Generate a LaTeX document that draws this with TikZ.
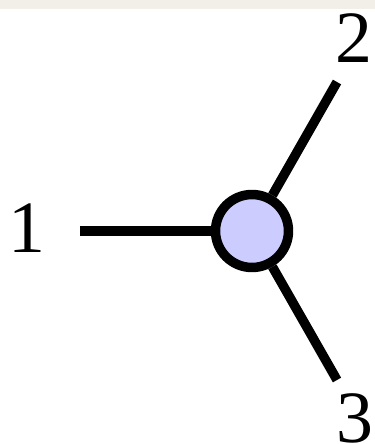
\documentclass[tikz,border=0pt]{standalone}
\usepackage{fontspec}
\setmainfont{Liberation Serif}
\usepackage{xcolor}
\usetikzlibrary{positioning}
\definecolor{vtxblue}{HTML}{CCCCFF}
\definecolor{topband}{HTML}{F2EFE9}

\begin{document}
\begin{tikzpicture}[
  x=0.02cm, y=-0.02cm,
  vertex/.style={circle, draw=black, fill=vtxblue, line width=5.4pt, minimum size=1.46cm, inner sep=0pt},
  leg/.style={line width=5.4pt, black},
  lbl/.style={inner sep=0pt, font=\fontsize{42}{42}\selectfont},
]
  \useasboundingbox (0,0) rectangle (375,444);
  \fill[topband] (0,0) rectangle (375,9);

  \node[vertex] (v) at (252,231) {};
  \coordinate (e1) at (80,231);
  \coordinate (e2) at (337,82);
  \coordinate (e3) at (337,380);

  \node[lbl] (l1) at (27,228) {1};
  \node[lbl] (l2) at (354,38) {2};
  \node[lbl] (l3) at (355,418) {3};

  \draw[leg] (e1) -- (v);
  \draw[leg] (v) -- (e2);
  \draw[leg] (v) -- (e3);
\end{tikzpicture}
\end{document}
